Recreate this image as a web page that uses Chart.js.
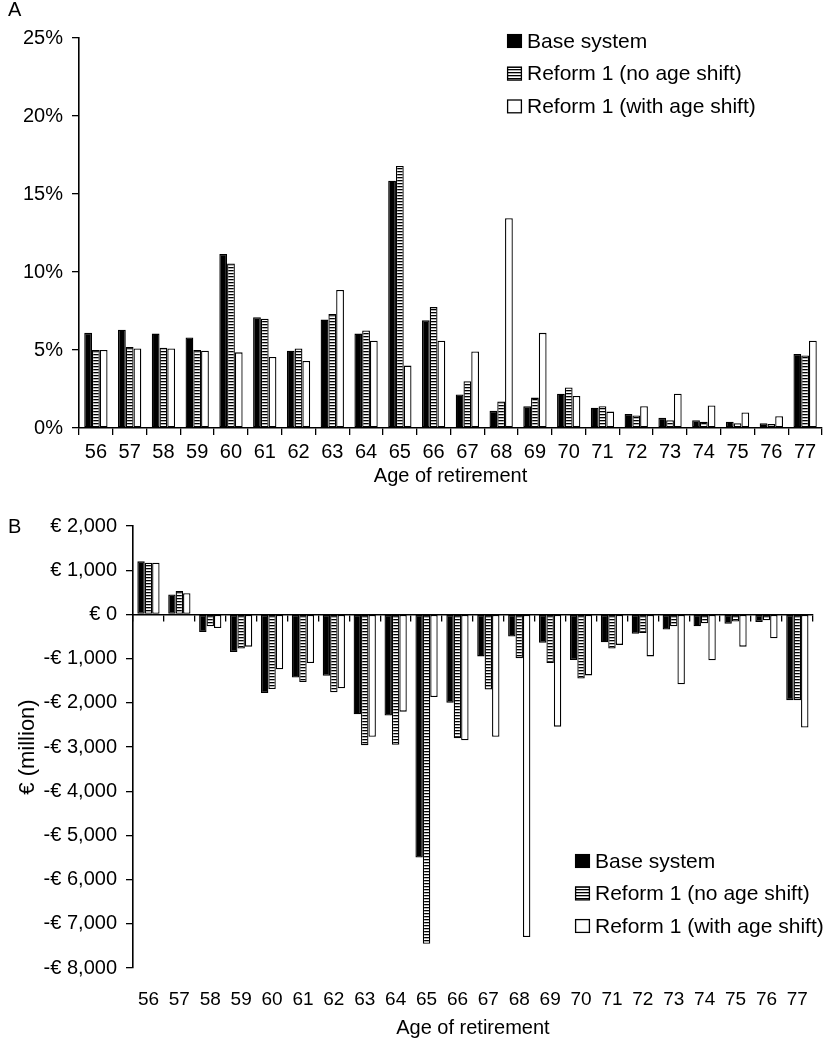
<!DOCTYPE html>
<html><head><meta charset="utf-8">
<script src="https://cdn.jsdelivr.net/npm/chart.js@4.4.1/dist/chart.umd.min.js"></script>
<style>
html,body{margin:0;padding:0;background:#fff;}
#wrap{position:relative;width:828px;height:1043px;overflow:hidden;background:#fff;}
canvas{position:absolute;left:0;}
#cA{top:0}
#cB{top:490px}
.pl{position:absolute;font:20px "Liberation Sans",Arial,sans-serif;line-height:20px;color:#000;}
</style></head><body>
<div id="wrap">
<canvas id="cA" width="828" height="490"></canvas>
<canvas id="cB" width="828" height="553"></canvas>
<div class="pl" style="left:8px;top:-1px">A</div>
<div class="pl" style="left:8px;top:516px">B</div>
</div>
<script>
// ---- data ----
const ages = ['56','57','58','59','60','61','62','63','64','65','66','67','68','69','70','71','72','73','74','75','76','77'];
const seriesNames = ['Base system','Reform 1 (no age shift)','Reform 1 (with age shift)'];

// Panel A: share of retirements by age (%)
const shareBase      = [6.1, 6.3, 6.05, 5.8, 11.15, 7.1, 4.95, 6.95, 6.05, 15.85, 6.9, 2.15, 1.1, 1.4, 2.2, 1.3, 0.9, 0.65, 0.5, 0.4, 0.3, 4.75];
const shareNoShift   = [5.0, 5.2, 5.15, 5.0, 10.55, 7.0, 5.1, 7.3, 6.25, 16.8, 7.75, 3.0, 1.7, 1.95, 2.6, 1.4, 0.8, 0.5, 0.4, 0.3, 0.25, 4.65];
const shareWithShift = [5.0, 5.1, 5.1, 4.95, 4.85, 4.55, 4.3, 8.85, 5.6, 4.0, 5.6, 4.9, 13.45, 6.1, 2.05, 1.05, 1.4, 2.2, 1.45, 1.0, 0.75, 5.6];

// Panel B: € million
const costBase      = [1200, 450, -400, -850, -1780, -1430, -1390, -2260, -2290, -5500, -2000, -950, -500, -640, -1030, -630, -440, -340, -270, -210, -170, -1940];
const costNoShift   = [1170, 530, -270, -770, -1690, -1530, -1760, -2960, -2950, -7450, -2800, -1700, -990, -1100, -1450, -770, -420, -270, -200, -160, -135, -1940];
const costWithShift = [1170, 480, -310, -730, -1240, -1100, -1670, -2770, -2200, -1870, -2850, -2770, -7300, -2540, -1380, -690, -950, -1580, -1040, -730, -540, -2560];

const shareTicks = [0, 5, 10, 15, 20, 25];
const costTicks = [2000, 1000, 0, -1000, -2000, -3000, -4000, -5000, -6000, -7000, -8000];

// ---- styling ----
const FONT = '"Liberation Sans", Arial, Helvetica, sans-serif';
Chart.defaults.font.family = FONT;
Chart.defaults.color = '#000';

function stripePattern() {
  const c = document.createElement('canvas');
  c.width = 4; c.height = 3;
  const g = c.getContext('2d');
  g.fillStyle = '#fff'; g.fillRect(0, 0, 4, 3);
  g.fillStyle = '#000'; g.fillRect(0, 0, 4, 1.3);
  return g.createPattern(c, 'repeat');
}

function makeDatasets(a, b, c) {
  const pat = stripePattern();
  const common = {borderColor: '#000', borderWidth: 1.3, borderSkipped: false, barPercentage: 1};
  return [
    Object.assign({label: seriesNames[0], data: a, backgroundColor: '#000'}, common),
    Object.assign({label: seriesNames[1], data: b, backgroundColor: pat}, common),
    Object.assign({label: seriesNames[2], data: c, backgroundColor: '#fff'}, common)
  ];
}

const legendPlugin = {
  id: 'boxLegend',
  afterDraw(chart, args, opts) {
    const ctx = chart.ctx;
    ctx.save();
    ctx.font = '21px ' + FONT;
    ctx.textBaseline = 'middle';
    ctx.textAlign = 'left';
    chart.data.datasets.forEach((ds, i) => {
      const y = opts.y + i * opts.gap;
      ctx.fillStyle = ds.backgroundColor;
      ctx.fillRect(opts.x, y - 7, 15, 14);
      ctx.lineWidth = 1.3; ctx.strokeStyle = '#000';
      ctx.strokeRect(opts.x + 0.6, y - 6.4, 13.8, 12.8);
      ctx.fillStyle = '#000';
      ctx.fillText(ds.label, opts.x + 20, y + 1);
    });
    ctx.restore();
  }
};

// ---- Panel A ----
const ctxA = document.getElementById('cA').getContext('2d');
new Chart(ctxA, {
  type: 'bar',
  data: {labels: ages, datasets: makeDatasets(shareBase, shareNoShift, shareWithShift)},
  options: {
    responsive: false, animation: false,
    datasets: {bar: {categoryPercentage: 0.69}},
    layout: {padding: {left: 0, right: 6, top: 38, bottom: 0}},
    plugins: {legend: {display: false}, tooltip: {enabled: false},
      boxLegend: {x: 507, y: 41, gap: 32.7}},
    scales: {
      x: {
        offset: true,
        grid: {offset: true, drawOnChartArea: false, drawTicks: true, tickLength: 7, color: '#000', lineWidth: 1.3},
        border: {display: true, color: '#000', width: 1.6},
        ticks: {font: {size: 20}, padding: 5, maxRotation: 0, autoSkip: false},
        title: {display: true, text: 'Age of retirement', font: {size: 20}, padding: {top: 0, bottom: 2}},
        afterFit: s => { s.height = 62; }
      },
      y: {
        min: 0, max: 25,
        afterBuildTicks: s => { s.ticks = shareTicks.map(v => ({value: v})); },
        grid: {drawOnChartArea: false, drawTicks: true, tickLength: 7, color: '#000', lineWidth: 1.3},
        border: {display: true, color: '#000', width: 1.6},
        ticks: {font: {size: 20}, padding: 9, callback: v => v + '%'},
        afterFit: s => { s.width = 79; }
      }
    }
  },
  plugins: [legendPlugin]
});

// ---- Panel B ----
const ctxB = document.getElementById('cB').getContext('2d');
function euro(v) {
  if (v === 0) return '€ 0';
  const s = Math.abs(v).toLocaleString('en-US');
  return (v < 0 ? '-€ ' : '€ ') + s;
}
new Chart(ctxB, {
  type: 'bar',
  data: {labels: ages, datasets: makeDatasets(costBase, costNoShift, costWithShift)},
  options: {
    responsive: false, animation: false,
    datasets: {bar: {categoryPercentage: 0.72}},
    layout: {padding: {left: 0, right: 4, top: 36, bottom: 0}},
    plugins: {legend: {display: false}, tooltip: {enabled: false},
      boxLegend: {x: 575, y: 371, gap: 32.5}},
    scales: {
      x: {
        offset: true,
        grid: {display: false, drawTicks: false},
        border: {display: false},
        ticks: {font: {size: 19}, padding: 20, maxRotation: 0, autoSkip: false},
        title: {display: true, text: 'Age of retirement', font: {size: 20}, padding: {top: 0, bottom: 3}},
        afterFit: s => { s.height = 75; }
      },
      x0: {
        type: 'category', labels: ages, axis: 'x',
        position: {y: 0},
        offset: true,
        grid: {offset: true, drawOnChartArea: false, drawTicks: true, tickLength: 6, color: '#000', lineWidth: 1.3},
        border: {display: true, color: '#000', width: 1.6},
        ticks: {display: false}
      },
      y: {
        min: -8000, max: 2000,
        afterBuildTicks: s => { s.ticks = costTicks.map(v => ({value: v})); },
        grid: {drawOnChartArea: false, drawTicks: true, tickLength: 7, color: '#000', lineWidth: 1.3},
        border: {display: true, color: '#000', width: 1.6},
        ticks: {font: {size: 20}, padding: 9, callback: v => euro(v)},
        title: {display: true, text: '€ (million)', font: {size: 22}, padding: {top: 15, bottom: 0}},
        afterFit: s => { s.width = 133; }
      }
    }
  },
  plugins: [legendPlugin]
});
</script>
</body></html>
